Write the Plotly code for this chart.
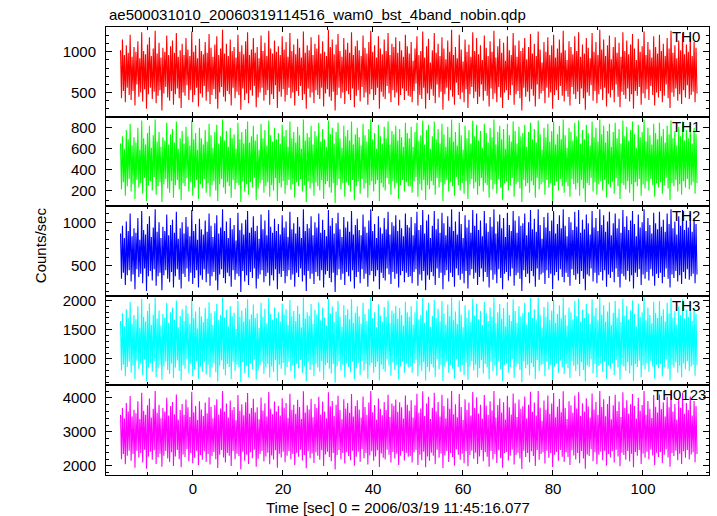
import plotly.graph_objects as go
from plotly.subplots import make_subplots

title_text = "ae500031010_20060319114516_wam0_bst_4band_nobin.qdp"
x_title = "Time [sec] 0 = 2006/03/19 11:45:16.077"
y_title = "Counts/sec"
band_names = ["TH0", "TH1", "TH2", "TH3", "TH0123"]
band_colors = ["#ff0000", "#00ff00", "#0000ff", "#00ffff", "#ff00ff"]

t_start = -16.1
t_step = 0.21386

th0 = [
1020, 430, 1150, 520, 960, 380, 1080, 560, 990, 470, 1210, 410, 940, 520, 1060, 340, 1000, 600, 1130, 450,
920, 500, 1240, 390, 1010, 540, 970, 300, 1090, 480, 1180, 560, 950, 420, 1040, 510, 1260, 370, 980, 460,
1110, 530, 930, 280, 1050, 490, 1000, 570, 1200, 440, 960, 400, 1070, 520, 1140, 350, 990, 480, 1230, 550,
940, 430, 1020, 310, 1100, 500, 960, 460, 1170, 590, 1030, 410, 950, 530, 1250, 380, 1000, 470, 1080, 560,
920, 330, 1160, 490, 1010, 440, 970, 580, 1120, 400, 990, 510, 1220, 360, 1050, 470, 940, 540, 1090, 420,
1190, 300, 960, 500, 1040, 570, 1270, 450, 980, 390, 1100, 520, 950, 480, 1150, 340, 1010, 560, 1060, 430,
930, 510, 1210, 470, 1000, 290, 1080, 550, 970, 410, 1130, 490, 1240, 370, 960, 530, 1030, 460, 1170, 580,
990, 320, 1060, 440, 920, 500, 1200, 560, 1010, 400, 1110, 470, 950, 530, 1260, 350, 1040, 480, 980, 420,
1140, 590, 1000, 310, 1070, 510, 960, 450, 1190, 540, 1030, 390, 1120, 470, 940, 560, 1230, 430, 1010, 500,
1090, 340, 970, 520, 1160, 460, 1050, 580, 930, 410, 1250, 480, 990, 300, 1080, 550, 1020, 440, 1180, 500,
960, 370, 1100, 530, 1040, 470, 1210, 420, 980, 560, 1130, 330, 1000, 490, 950, 540, 1270, 450, 1060, 400,
1150, 510, 970, 280, 1090, 470, 1220, 560, 1010, 430, 940, 500, 1170, 360, 1030, 520, 1110, 480, 990, 410,
1240, 550, 960, 320, 1070, 460, 1140, 530, 1020, 390, 950, 570, 1200, 440, 1050, 500, 980, 350, 1120, 480,
1260, 540, 1000, 410, 1080, 470, 930, 560, 1190, 300, 1040, 510, 970, 450, 1150, 420, 1010, 580, 1230, 490,
960, 380, 1100, 530, 1060, 440, 1180, 500, 990, 340, 1130, 470, 1020, 550, 940, 410, 1210, 520, 1070, 460,
980, 450, 1120, 380, 890, 520, 1040, 610, 1190, 340, 960, 470, 1010, 420, 1250, 560, 930, 300, 1070, 490,
1160, 410, 870, 540, 1020, 460, 1230, 370, 990, 600, 1100, 440, 950, 510, 1180, 290, 1040, 480, 910, 560,
1140, 400, 1000, 530, 1270, 450, 960, 350, 1060, 620, 920, 470, 1210, 420, 1030, 500, 880, 380, 1150, 540,
1000, 310, 1090, 480, 940, 570, 1240, 430, 1010, 510, 1170, 360, 970, 450, 1080, 600, 900, 400, 1200, 520,
1050, 460, 950, 330, 1130, 550, 1000, 420, 1260, 490, 930, 380, 1070, 570, 1160, 440, 990, 310, 1110, 500,
890, 530, 1190, 410, 1020, 470, 960, 590, 1230, 350, 1080, 480, 940, 520, 1140, 430, 1010, 280, 1050, 560,
1170, 450, 910, 510, 1060, 390, 1220, 540, 980, 460, 1100, 330, 950, 600, 1250, 420, 1030, 490, 870, 520,
1120, 370, 1000, 560, 1180, 440, 960, 500, 1080, 300, 1210, 470, 930, 530, 1040, 410, 1150, 580, 990, 460,
1260, 390, 1020, 520, 900, 450, 1130, 340, 1060, 570, 970, 480, 1190, 420, 1010, 510, 1240, 360, 940, 550,
1090, 430, 980, 290, 1170, 500, 1050, 460, 920, 590, 1230, 400, 1000, 520, 1120, 370, 960, 480, 1270, 540,
1030, 410, 1150, 560, 950, 330, 1080, 490, 1200, 440, 910, 530, 1060, 380, 1180, 600, 990, 450, 1110, 320,
940, 510, 1240, 470, 1010, 420, 1140, 550, 970, 390, 1090, 480, 1220, 300, 1040, 520, 900, 460, 1160, 570,
1000, 350, 1070, 490, 1250, 430, 960, 540, 1120, 410, 1030, 580, 930, 470, 1190, 340, 1060, 500, 980, 440,
1210, 520, 1010, 380, 1100, 460, 950, 600, 1170, 430, 1040, 310, 1260, 500, 990, 450, 1080, 550, 920, 400,
1140, 480, 1020, 360, 1230, 530, 970, 440, 1090, 590, 1000, 420, 1180, 470, 950, 510, 1120, 380, 1050, 490,
]

th1 = [
650, 210, 720, 280, 600, 150, 780, 240, 690, 310, 840, 190, 630, 260, 710, 120, 660, 300, 800, 230,
590, 270, 870, 170, 700, 320, 640, 100, 750, 250, 820, 290, 610, 200, 730, 330, 880, 160, 670, 240,
760, 280, 620, 90, 710, 260, 680, 310, 850, 220, 640, 180, 740, 290, 790, 130, 660, 250, 860, 300,
600, 210, 700, 110, 770, 270, 650, 240, 810, 320, 720, 190, 630, 280, 870, 150, 690, 230, 750, 300,
590, 120, 800, 260, 700, 220, 640, 310, 780, 180, 670, 270, 840, 140, 730, 250, 610, 290, 760, 200,
830, 100, 650, 260, 720, 310, 880, 230, 680, 170, 770, 280, 620, 240, 800, 130, 700, 300, 740, 210,
600, 270, 850, 250, 690, 90, 760, 290, 650, 190, 790, 260, 860, 160, 660, 280, 720, 230, 820, 320,
680, 110, 740, 220, 590, 270, 840, 300, 700, 180, 780, 240, 630, 280, 870, 140, 730, 250, 670, 200,
800, 320, 690, 100, 750, 270, 650, 230, 830, 290, 720, 170, 780, 250, 620, 300, 860, 210, 700, 260,
760, 130, 660, 280, 810, 240, 730, 310, 600, 190, 880, 250, 680, 90, 750, 290, 710, 220, 820, 270,
640, 150, 770, 280, 720, 240, 850, 200, 670, 300, 790, 120, 690, 260, 620, 290, 870, 230, 740, 180,
800, 270, 650, 80, 760, 250, 850, 310, 700, 210, 610, 270, 820, 140, 720, 280, 780, 250, 680, 190,
860, 300, 640, 110, 740, 240, 800, 290, 710, 170, 630, 310, 840, 220, 730, 270, 670, 130, 790, 250,
880, 290, 690, 190, 750, 260, 600, 300, 830, 100, 720, 270, 650, 230, 810, 200, 700, 320, 860, 260,
640, 160, 770, 290, 740, 220, 820, 270, 680, 120, 790, 250, 710, 300, 620, 190, 850, 280, 750, 240,
700, 240, 810, 180, 620, 290, 760, 330, 850, 140, 680, 260, 730, 200, 870, 300, 640, 110, 780, 250,
830, 210, 600, 290, 720, 250, 860, 160, 690, 320, 790, 230, 650, 280, 840, 100, 740, 260, 620, 300,
810, 190, 710, 280, 880, 240, 670, 150, 760, 330, 630, 250, 850, 200, 730, 270, 590, 170, 820, 290,
700, 120, 780, 260, 650, 310, 870, 220, 720, 280, 830, 160, 680, 240, 770, 320, 610, 190, 840, 270,
750, 250, 660, 130, 800, 300, 710, 210, 880, 260, 640, 170, 760, 310, 820, 230, 690, 110, 790, 270,
600, 290, 840, 200, 730, 250, 670, 320, 860, 140, 770, 260, 650, 280, 810, 220, 720, 90, 750, 300,
830, 240, 620, 270, 760, 180, 850, 290, 690, 250, 790, 130, 660, 320, 870, 210, 740, 260, 590, 280,
800, 160, 710, 300, 840, 230, 670, 270, 770, 100, 860, 250, 640, 290, 740, 200, 820, 310, 690, 240,
880, 180, 730, 280, 610, 240, 800, 140, 760, 310, 680, 260, 850, 210, 720, 270, 870, 150, 650, 300,
780, 220, 690, 90, 830, 270, 750, 250, 630, 320, 860, 190, 710, 280, 800, 160, 670, 260, 880, 290,
740, 200, 820, 300, 660, 130, 770, 260, 840, 230, 620, 280, 760, 170, 850, 320, 700, 240, 790, 120,
650, 270, 870, 250, 720, 210, 810, 290, 680, 180, 780, 260, 860, 100, 740, 280, 610, 240, 830, 310,
710, 150, 760, 260, 880, 220, 670, 290, 800, 200, 730, 310, 640, 250, 840, 140, 750, 270, 690, 230,
850, 280, 720, 170, 790, 250, 660, 320, 820, 220, 740, 110, 870, 270, 700, 240, 770, 300, 630, 190,
810, 260, 720, 160, 860, 290, 680, 230, 780, 310, 700, 210, 840, 250, 650, 280, 800, 170, 740, 270,
]

th2 = [
870, 350, 960, 420, 820, 280, 1010, 390, 900, 450, 1100, 320, 840, 400, 930, 230, 880, 460, 1050, 370,
800, 410, 1130, 300, 910, 470, 860, 210, 980, 380, 1070, 440, 830, 330, 940, 460, 1150, 270, 890, 380,
1000, 420, 820, 220, 950, 390, 900, 450, 1090, 350, 850, 310, 970, 430, 1030, 250, 880, 380, 1120, 460,
810, 340, 930, 240, 1000, 410, 870, 370, 1060, 470, 950, 320, 840, 420, 1140, 290, 900, 360, 980, 450,
800, 250, 1040, 390, 920, 340, 860, 460, 1020, 310, 890, 410, 1100, 270, 960, 380, 830, 430, 990, 330,
1080, 220, 870, 400, 940, 460, 1150, 360, 900, 300, 1010, 420, 820, 380, 1050, 260, 920, 450, 970, 340,
790, 410, 1110, 380, 910, 200, 990, 440, 860, 320, 1030, 390, 1130, 280, 880, 430, 940, 360, 1070, 470,
900, 240, 960, 350, 810, 400, 1090, 450, 920, 310, 1020, 380, 850, 420, 1140, 270, 950, 390, 880, 330,
1040, 460, 900, 230, 980, 410, 860, 370, 1080, 440, 940, 300, 1010, 380, 830, 450, 1120, 340, 920, 400,
990, 260, 870, 420, 1060, 370, 950, 470, 820, 320, 1150, 390, 900, 210, 980, 440, 930, 350, 1070, 410,
850, 290, 1000, 430, 940, 380, 1100, 330, 880, 450, 1030, 250, 910, 400, 840, 440, 1140, 360, 960, 310,
1050, 420, 870, 200, 990, 390, 1110, 460, 920, 340, 830, 410, 1060, 280, 940, 430, 1010, 380, 890, 320,
1130, 450, 860, 240, 970, 370, 1040, 430, 910, 300, 850, 460, 1090, 350, 950, 410, 880, 260, 1020, 390,
1150, 440, 900, 320, 980, 380, 820, 450, 1070, 230, 940, 420, 870, 360, 1050, 330, 920, 470, 1120, 400,
860, 290, 1000, 430, 960, 350, 1080, 410, 900, 250, 1030, 390, 930, 440, 840, 310, 1100, 420, 970, 370,
940, 380, 1060, 300, 850, 430, 990, 460, 1120, 270, 910, 400, 970, 330, 1140, 440, 870, 220, 1020, 390,
1090, 340, 820, 430, 960, 380, 1130, 280, 920, 470, 1040, 360, 880, 420, 1110, 230, 990, 390, 850, 450,
1070, 320, 950, 420, 1150, 370, 900, 260, 1010, 470, 860, 390, 1120, 340, 980, 410, 820, 300, 1080, 440,
940, 240, 1030, 390, 880, 460, 1140, 350, 960, 420, 1100, 280, 910, 370, 1020, 470, 840, 320, 1130, 430,
990, 370, 890, 250, 1060, 450, 950, 340, 1150, 400, 870, 300, 1010, 460, 1090, 360, 930, 230, 1050, 410,
830, 430, 1110, 330, 970, 380, 900, 470, 1130, 270, 1020, 390, 880, 420, 1070, 350, 960, 210, 990, 450,
1100, 370, 850, 410, 1000, 300, 1140, 440, 920, 380, 1040, 260, 890, 470, 1150, 340, 970, 400, 810, 420,
1060, 290, 940, 450, 1110, 360, 900, 410, 1020, 230, 1130, 390, 870, 430, 980, 330, 1080, 460, 930, 370,
1150, 310, 960, 420, 840, 370, 1060, 270, 1000, 460, 910, 390, 1120, 340, 950, 410, 1140, 290, 880, 440,
1030, 350, 920, 220, 1090, 400, 990, 380, 860, 470, 1130, 320, 940, 420, 1050, 300, 900, 390, 1150, 430,
970, 330, 1080, 450, 890, 260, 1010, 400, 1120, 360, 850, 430, 990, 310, 1100, 470, 930, 370, 1040, 250,
880, 410, 1140, 380, 950, 340, 1070, 440, 910, 320, 1020, 390, 1130, 240, 980, 420, 840, 370, 1090, 460,
940, 280, 1000, 400, 1150, 350, 900, 430, 1050, 330, 970, 460, 870, 380, 1110, 270, 990, 410, 920, 360,
1120, 420, 950, 300, 1030, 370, 890, 470, 1100, 350, 980, 250, 1150, 400, 930, 360, 1010, 440, 860, 320,
1070, 390, 960, 290, 1140, 430, 910, 350, 1020, 460, 940, 340, 1100, 380, 890, 410, 1050, 300, 980, 400,
]

th3 = [
1650, 800, 1780, 900, 1560, 700, 1850, 860, 1700, 950, 1980, 760, 1600, 880, 1750, 650, 1680, 970, 1900, 830,
1530, 910, 2030, 720, 1720, 990, 1640, 620, 1820, 850, 1950, 930, 1580, 780, 1760, 960, 2050, 690, 1690, 840,
1830, 900, 1570, 640, 1770, 870, 1710, 950, 1960, 810, 1620, 740, 1800, 920, 1880, 670, 1670, 850, 2000, 970,
1540, 790, 1740, 630, 1850, 890, 1650, 830, 1920, 990, 1780, 750, 1600, 910, 2040, 700, 1700, 820, 1810, 960,
1520, 660, 1890, 870, 1730, 780, 1630, 940, 1870, 730, 1690, 900, 1970, 680, 1790, 850, 1580, 930, 1820, 770,
1940, 610, 1660, 880, 1750, 970, 2050, 820, 1710, 720, 1840, 910, 1560, 860, 1900, 650, 1730, 950, 1790, 790,
1510, 900, 1990, 860, 1720, 600, 1830, 940, 1640, 760, 1870, 880, 2020, 690, 1680, 920, 1760, 820, 1930, 990,
1700, 640, 1780, 800, 1530, 890, 1960, 950, 1720, 740, 1860, 850, 1610, 910, 2040, 680, 1770, 870, 1670, 780,
1880, 980, 1700, 620, 1800, 900, 1640, 830, 1950, 930, 1760, 720, 1850, 860, 1580, 950, 2010, 790, 1730, 890,
1820, 660, 1650, 910, 1910, 840, 1770, 980, 1540, 760, 2050, 870, 1690, 610, 1800, 940, 1740, 810, 1940, 900,
1600, 700, 1840, 920, 1760, 850, 1970, 780, 1660, 960, 1880, 640, 1710, 890, 1570, 930, 2030, 830, 1780, 750,
1900, 910, 1630, 590, 1810, 870, 1990, 960, 1720, 800, 1550, 900, 1920, 680, 1750, 920, 1850, 860, 1680, 770,
2020, 950, 1620, 650, 1790, 840, 1900, 930, 1730, 720, 1600, 970, 1960, 800, 1770, 910, 1650, 660, 1860, 880,
2050, 930, 1700, 760, 1800, 860, 1540, 950, 1930, 630, 1740, 900, 1640, 820, 1890, 780, 1720, 990, 2000, 890,
1610, 710, 1830, 940, 1780, 810, 1910, 900, 1690, 650, 1870, 870, 1750, 950, 1570, 760, 1980, 920, 1800, 850,
1720, 870, 1900, 760, 1590, 930, 1800, 980, 2000, 700, 1680, 880, 1750, 790, 2040, 940, 1620, 630, 1830, 860,
1960, 780, 1550, 910, 1740, 850, 2010, 690, 1700, 990, 1860, 820, 1640, 900, 1990, 620, 1780, 870, 1590, 950,
1930, 760, 1730, 900, 2050, 830, 1660, 660, 1810, 990, 1600, 860, 2000, 780, 1760, 890, 1540, 720, 1920, 940,
1710, 640, 1840, 870, 1630, 960, 2030, 800, 1740, 900, 1950, 680, 1680, 840, 1820, 980, 1580, 750, 1980, 910,
1790, 850, 1650, 650, 1880, 950, 1720, 790, 2050, 880, 1610, 710, 1800, 960, 1940, 820, 1690, 620, 1870, 900,
1560, 920, 1970, 760, 1750, 860, 1650, 990, 2020, 670, 1820, 870, 1620, 910, 1900, 810, 1730, 600, 1780, 950,
1960, 840, 1590, 900, 1800, 720, 2040, 930, 1700, 860, 1850, 650, 1660, 980, 2050, 790, 1760, 890, 1530, 910,
1890, 700, 1720, 950, 1980, 820, 1670, 900, 1830, 630, 2010, 870, 1620, 920, 1770, 760, 1920, 970, 1690, 850,
2050, 740, 1750, 910, 1570, 840, 1880, 670, 1800, 960, 1680, 880, 1990, 790, 1730, 900, 2030, 700, 1640, 940,
1840, 810, 1700, 610, 1940, 890, 1780, 860, 1600, 990, 2020, 750, 1740, 910, 1870, 690, 1660, 880, 2050, 920,
1760, 780, 1920, 950, 1640, 660, 1810, 890, 1970, 830, 1580, 920, 1790, 720, 1990, 980, 1710, 850, 1860, 640,
1630, 900, 2030, 870, 1740, 790, 1900, 940, 1680, 750, 1830, 880, 2000, 620, 1770, 910, 1560, 860, 1950, 970,
1720, 680, 1800, 890, 2050, 820, 1660, 930, 1880, 780, 1750, 960, 1610, 870, 1980, 660, 1790, 900, 1700, 840,
1990, 910, 1740, 700, 1850, 860, 1640, 990, 1960, 830, 1780, 630, 2040, 890, 1710, 850, 1820, 940, 1590, 760,
1900, 880, 1750, 680, 2020, 920, 1690, 820, 1840, 960, 1720, 790, 1970, 870, 1650, 900, 1880, 710, 1770, 890,
]

th0123 = [
3500, 2200, 3700, 2350, 3400, 2050, 3850, 2300, 3600, 2450, 4050, 2150, 3450, 2350, 3650, 1950, 3550, 2450, 3900, 2250,
3380, 2380, 4150, 2100, 3620, 2480, 3500, 1920, 3780, 2280, 3980, 2420, 3420, 2180, 3680, 2460, 4200, 2060, 3560, 2260,
3800, 2360, 3400, 1980, 3700, 2300, 3600, 2440, 4000, 2220, 3480, 2120, 3750, 2400, 3880, 2000, 3520, 2280, 4100, 2470,
3360, 2200, 3640, 1960, 3820, 2340, 3500, 2260, 3950, 2490, 3720, 2140, 3440, 2380, 4180, 2080, 3580, 2240, 3760, 2450,
3350, 2020, 3900, 2320, 3660, 2180, 3470, 2430, 3860, 2120, 3550, 2350, 4020, 2040, 3740, 2290, 3400, 2410, 3790, 2200,
3960, 1940, 3510, 2330, 3690, 2470, 4200, 2250, 3600, 2100, 3830, 2380, 3420, 2300, 3920, 2000, 3640, 2440, 3730, 2200,
3340, 2360, 4080, 2290, 3620, 1900, 3810, 2420, 3490, 2150, 3870, 2340, 4140, 2060, 3540, 2400, 3700, 2230, 3970, 2480,
3580, 1980, 3720, 2210, 3370, 2350, 4010, 2440, 3630, 2130, 3840, 2280, 3450, 2390, 4170, 2050, 3680, 2310, 3520, 2190,
3890, 2460, 3600, 1950, 3770, 2360, 3480, 2250, 3990, 2420, 3710, 2110, 3850, 2300, 3410, 2440, 4120, 2200, 3650, 2350,
3800, 2020, 3530, 2390, 3940, 2270, 3730, 2480, 3380, 2160, 4190, 2320, 3570, 1930, 3780, 2430, 3660, 2230, 3970, 2370,
3430, 2090, 3820, 2400, 3700, 2300, 4030, 2180, 3510, 2460, 3890, 2000, 3600, 2340, 3400, 2420, 4160, 2260, 3750, 2140,
3910, 2380, 3470, 1900, 3800, 2320, 4060, 2470, 3640, 2200, 3370, 2380, 3960, 2070, 3690, 2400, 3850, 2290, 3560, 2170,
4110, 2450, 3450, 2010, 3760, 2270, 3930, 2420, 3660, 2120, 3420, 2490, 4040, 2230, 3730, 2380, 3500, 2040, 3860, 2310,
4200, 2430, 3580, 2150, 3790, 2280, 3360, 2460, 3980, 1970, 3680, 2370, 3490, 2240, 3880, 2190, 3640, 2480, 4090, 2330,
3440, 2100, 3830, 2410, 3770, 2220, 3950, 2360, 3590, 2030, 3870, 2300, 3720, 2440, 3390, 2160, 4070, 2390, 3800, 2270,
3620, 2290, 3930, 2100, 3420, 2400, 3780, 2470, 4120, 2030, 3560, 2330, 3690, 2170, 4190, 2420, 3470, 1960, 3830, 2280,
4030, 2150, 3380, 2390, 3710, 2300, 4150, 2050, 3600, 2480, 3880, 2240, 3450, 2370, 4090, 1940, 3760, 2310, 3400, 2440,
3990, 2120, 3680, 2380, 4200, 2260, 3520, 2010, 3810, 2490, 3430, 2330, 4110, 2180, 3730, 2360, 3350, 2080, 3960, 2430,
3650, 1990, 3860, 2320, 3480, 2450, 4170, 2210, 3700, 2390, 4020, 2060, 3540, 2280, 3800, 2470, 3390, 2140, 4080, 2400,
3770, 2270, 3500, 1980, 3900, 2440, 3630, 2190, 4200, 2350, 3420, 2090, 3790, 2460, 3980, 2230, 3570, 1950, 3870, 2380,
3360, 2410, 4060, 2160, 3720, 2300, 3510, 2480, 4130, 2040, 3840, 2320, 3440, 2390, 3950, 2220, 3680, 1910, 3750, 2450,
4040, 2260, 3400, 2380, 3800, 2110, 4180, 2430, 3590, 2290, 3860, 2000, 3480, 2470, 4200, 2180, 3710, 2350, 3330, 2400,
3920, 2070, 3650, 2450, 4070, 2240, 3530, 2380, 3830, 1970, 4140, 2330, 3430, 2410, 3740, 2150, 3970, 2470, 3580, 2270,
4190, 2120, 3700, 2400, 3380, 2260, 3900, 2030, 3780, 2460, 3560, 2310, 4070, 2190, 3690, 2380, 4160, 2080, 3470, 2440,
3840, 2220, 3600, 1920, 3990, 2340, 3750, 2290, 3420, 2490, 4130, 2140, 3660, 2400, 3880, 2050, 3500, 2330, 4200, 2420,
3730, 2170, 3960, 2450, 3460, 2010, 3820, 2350, 4050, 2250, 3370, 2430, 3780, 2100, 4090, 2480, 3610, 2280, 3890, 1990,
3440, 2390, 4160, 2320, 3700, 2180, 3930, 2440, 3540, 2130, 3810, 2360, 4110, 1960, 3760, 2410, 3390, 2300, 4000, 2470,
3620, 2060, 3790, 2370, 4200, 2240, 3500, 2420, 3910, 2200, 3680, 2480, 3410, 2310, 4080, 2020, 3740, 2390, 3570, 2260,
4100, 2410, 3670, 2090, 3870, 2330, 3450, 2490, 4030, 2250, 3720, 1980, 4190, 2380, 3600, 2290, 3820, 2450, 3360, 2170,
3940, 2360, 3710, 2060, 4150, 2430, 3530, 2240, 3850, 2470, 3640, 2190, 4040, 2340, 3480, 2400, 3910, 2110, 3760, 2350,
]

series = [th0, th1, th2, th3, th0123]
y_ranges = [[205, 1305], [50, 908], [155, 1185], [545, 2080], [1735, 4365]]
y_major = [500, 200, 500, 500, 1000]
y_minor = [100, 100, 100, 100, 200]
label_x = [0.988, 0.988, 0.988, 0.988, 0.9985]

FONT = "Liberation Sans, Arial, Helvetica, sans-serif"

fig = make_subplots(rows=5, cols=1, shared_xaxes=True, vertical_spacing=0)

for i, vals in enumerate(series):
    xs = [t_start + k * t_step for k in range(len(vals))]
    fig.add_trace(
        go.Scatter(x=xs, y=vals, mode="lines",
                   line=dict(color=band_colors[i], width=1.1),
                   showlegend=False, hoverinfo="skip"),
        row=i + 1, col=1)
    fig.update_yaxes(
        range=y_ranges[i], dtick=y_major[i], tick0=0,
        ticks="inside", ticklen=6, tickwidth=1, tickcolor="black",
        minor=dict(dtick=y_minor[i], tick0=0, ticks="inside", ticklen=3,
                   tickcolor="black", showgrid=False),
        showline=True, linecolor="black", linewidth=1, mirror="ticks",
        showgrid=False, zeroline=False,
        tickfont=dict(family=FONT, size=15, color="black"),
        ticklabelstandoff=6,
        row=i + 1, col=1)
    fig.update_xaxes(
        range=[-19.33, 114.67], dtick=20, tick0=0,
        ticks="inside", ticklen=5, tickwidth=1, tickcolor="black",
        minor=dict(dtick=10, tick0=0, ticks="inside", ticklen=3,
                   tickcolor="black", showgrid=False),
        showline=True, linecolor="black", linewidth=1, mirror="ticks",
        showgrid=False, zeroline=False,
        tickfont=dict(family=FONT, size=15, color="black"),
        ticklabelstandoff=0,
        row=i + 1, col=1)
    yref = "y domain" if i == 0 else f"y{i + 1} domain"
    fig.add_annotation(text=band_names[i], xref="paper", yref=yref,
                       x=label_x[i], y=1, xanchor="right", yanchor="top",
                       yshift=1, showarrow=False,
                       font=dict(family=FONT, size=15, color="black"))

fig.add_annotation(text=title_text, xref="paper", yref="paper",
                   x=0.0017, y=1.027, xanchor="left", yanchor="middle",
                   showarrow=False, font=dict(family=FONT, size=15, color="black"))
fig.add_annotation(text=y_title, xref="paper", yref="paper",
                   x=-0.1095, y=0.513, xanchor="center", yanchor="middle",
                   textangle=-90, showarrow=False,
                   font=dict(family=FONT, size=15, color="black"))
fig.add_annotation(text=x_title, xref="paper", yref="paper",
                   x=0.4836, y=-0.073, xanchor="center", yanchor="middle",
                   showarrow=False, font=dict(family=FONT, size=15, color="black"))

fig.update_layout(
    width=717, height=516,
    margin=dict(l=106, r=8, t=27, b=41),
    paper_bgcolor="white", plot_bgcolor="white",
    font=dict(family=FONT, size=15, color="black"),
)

fig.write_html("out.html", config={"displayModeBar": False},
               post_script="document.body.style.margin='0px';")
